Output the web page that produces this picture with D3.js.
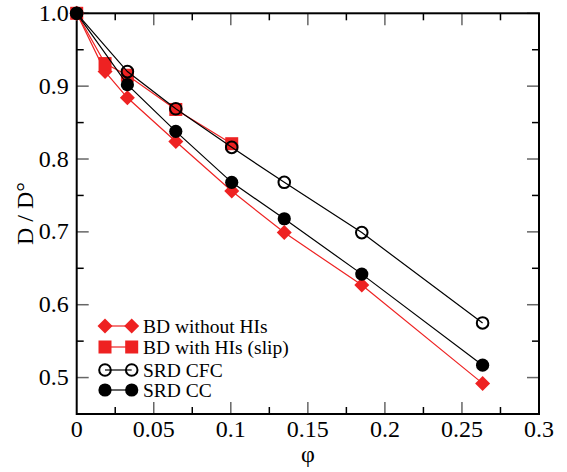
<!DOCTYPE html>
<meta charset="utf-8">
<body style="margin:0">
<script src="https://cdn.jsdelivr.net/npm/d3@7"></script>
<script>

var width = 567,
    height = 472,
    margin = {top: 13.3, right: 28, bottom: 58, left: 76.7};

var serif = "'Liberation Serif'";

// volume fractions and D/D0 for each series
var phiBD = [0, 0.0184, 0.0329, 0.0643, 0.1006, 0.1347, 0.185, 0.2634],
    bdNoHI = [1.0, 0.920, 0.884, 0.824, 0.756, 0.699, 0.627, 0.492];

var phiSlip = [0, 0.0184, 0.0329, 0.0643, 0.1006],
    bdSlip = [1.0, 0.931, 0.915, 0.868, 0.821];

var phiSRD = [0, 0.0329, 0.0643, 0.1006, 0.1347, 0.185, 0.2634],
    srdCFC = [1.0, 0.920, 0.869, 0.816, 0.768, 0.699, 0.575],
    srdCC = [1.0, 0.902, 0.838, 0.768, 0.718, 0.642, 0.517];

var xTicks = [0, 0.05, 0.1, 0.15, 0.2, 0.25, 0.3],
    yTicks = [0.5, 0.6, 0.7, 0.8, 0.9, 1.0];

var red = "#ee2222";

var series = [
  {name: "BD without HIs", x: phiBD, y: bdNoHI, color: red, marker: "diamond"},
  {name: "BD with HIs (slip)", x: phiSlip, y: bdSlip, color: red, marker: "square"},
  {name: "SRD CFC", x: phiSRD, y: srdCFC, color: "#000", marker: "open"},
  {name: "SRD CC", x: phiSRD, y: srdCC, color: "#000", marker: "filled"}
];

var x = d3.scaleLinear().domain([0, 0.3]).range([margin.left, width - margin.right]);
var y = d3.scaleLinear().domain([0.45, 1.0]).range([height - margin.bottom, margin.top]);

var svg = d3.select("body").append("svg")
    .attr("width", width)
    .attr("height", height)
    .attr("font-family", serif);

var x0 = x.range()[0], x1 = x.range()[1],
    y0 = y.range()[0], y1 = y.range()[1];

// ticks, all inward
var ticks = svg.append("g");
var xMinor = d3.range(0.025, 0.3, 0.05);
var yMinor = [0.55, 0.65, 0.75, 0.85, 0.95];

function addTicks(vals, len, col) {
  vals.forEach(function(v) {
    ticks.append("line").attr("x1", x(v)).attr("x2", x(v)).attr("y1", y0).attr("y2", y0 - len).attr("stroke", col).attr("stroke-width", 1.5);
    ticks.append("line").attr("x1", x(v)).attr("x2", x(v)).attr("y1", y1).attr("y2", y1 + len).attr("stroke", col).attr("stroke-width", 1.5);
  });
}
function addYTicks(vals, len, col) {
  vals.forEach(function(v) {
    ticks.append("line").attr("y1", y(v)).attr("y2", y(v)).attr("x1", x0).attr("x2", x0 + len).attr("stroke", col).attr("stroke-width", 1.5);
    ticks.append("line").attr("y1", y(v)).attr("y2", y(v)).attr("x1", x1).attr("x2", x1 - len).attr("stroke", col).attr("stroke-width", 1.5);
  });
}
addTicks(xTicks.slice(1, -1), 12, "#666");
addTicks(xMinor, 7, "#000");
addYTicks(yTicks, 12, "#666");
addYTicks(yMinor, 7, "#000");

svg.append("rect")
    .attr("x", x0).attr("y", y1)
    .attr("width", x1 - x0).attr("height", y0 - y1)
    .attr("fill", "none").attr("stroke", "#000").attr("stroke-width", 2);

// tick labels
xTicks.forEach(function(d) {
  svg.append("text")
      .attr("x", x(d))
      .attr("y", y0 + 23)
      .attr("text-anchor", "middle")
      .attr("font-family", serif)
      .attr("font-size", 24)
      .text(d === 0 ? "0" : String(d));
});

yTicks.forEach(function(d) {
  svg.append("text")
      .attr("x", x0 - 8)
      .attr("y", y(d) + 7.5)
      .attr("text-anchor", "end")
      .attr("font-family", serif)
      .attr("font-size", 24)
      .text(d.toFixed(1));
});

svg.append("text")
    .attr("x", (x0 + x1) / 2)
    .attr("y", 462)
    .attr("text-anchor", "middle")
    .attr("font-family", serif)
    .attr("font-size", 24)
    .text("\u03c6");

svg.append("text")
    .attr("transform", "translate(33," + ((y0 + y1) / 2) + ") rotate(-90)")
    .attr("text-anchor", "middle")
    .attr("font-family", serif)
    .attr("font-size", 24)
    .text("D / D\u00b0");

// markers
function drawMarker(g, kind, cx, cy, color) {
  if (kind === "diamond") {
    g.append("path").attr("d", "M" + cx + "," + (cy - 7.5) + "L" + (cx + 7.5) + "," + cy + "L" + cx + "," + (cy + 7.5) + "L" + (cx - 7.5) + "," + cy + "Z").attr("fill", color);
  } else if (kind === "square") {
    g.append("rect").attr("x", cx - 6.5).attr("y", cy - 6.5).attr("width", 13).attr("height", 13).attr("fill", color);
  } else if (kind === "open") {
    g.append("circle").attr("cx", cx).attr("cy", cy).attr("r", 5.8).attr("fill", "none").attr("stroke", color).attr("stroke-width", 2);
  } else {
    g.append("circle").attr("cx", cx).attr("cy", cy).attr("r", 6.6).attr("fill", color);
  }
}

var line = d3.line();

series.forEach(function(s) {
  var g = svg.append("g");
  var pts = s.x.map(function(v, i) { return [x(v), y(s.y[i])]; });
  g.append("path")
      .attr("d", line(pts))
      .attr("fill", "none")
      .attr("stroke", s.color)
      .attr("stroke-width", 1.2);
  pts.forEach(function(p) { drawMarker(g, s.marker, p[0], p[1], s.color); });
});

// legend
var legY = [326, 347, 370, 390];
series.forEach(function(s, i) {
  var g = svg.append("g");
  g.append("line").attr("x1", 105).attr("x2", 131.7).attr("y1", legY[i]).attr("y2", legY[i])
      .attr("stroke", s.color).attr("stroke-width", 1.2);
  drawMarker(g, s.marker, 105, legY[i], s.color);
  drawMarker(g, s.marker, 131.7, legY[i], s.color);
  svg.append("text")
      .attr("x", 143)
      .attr("y", legY[i] + 6.5)
      .attr("font-family", serif)
      .attr("font-size", 19.5)
      .text(s.name);
});

</script>
